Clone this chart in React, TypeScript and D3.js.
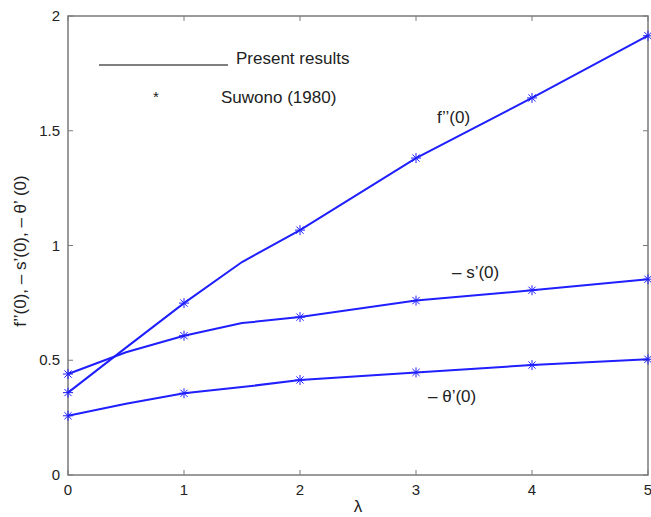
import { useEffect, useRef } from 'react';
import * as d3 from 'd3';

const lambdaLine = [0, 0.5, 1, 1.5, 2, 3, 4, 5];
const fppLine = [0.359, 0.555, 0.749, 0.928, 1.067, 1.381, 1.643, 1.914];
const spLine = [0.44, 0.535, 0.607, 0.662, 0.688, 0.76, 0.805, 0.853];
const thLine = [0.258, 0.31, 0.356, 0.383, 0.414, 0.447, 0.479, 0.504];
const markerLambda = [0, 1, 2, 3, 4, 5];
const xTicks = [0, 1, 2, 3, 4, 5];
const yTicks = [0, 0.5, 1, 1.5, 2];

const BLUE = '#1f1fff';
const FONT = 'Liberation Sans, Arial, sans-serif';

export default function App() {
  const svgRef = useRef<SVGSVGElement>(null);

  useEffect(() => {
    const svg = d3.select(svgRef.current);
    svg.selectAll('*').remove();
    const margin = { top: 16, right: 3, bottom: 42, left: 68 };
    const W = 651, H = 517;
    const width = W - margin.left - margin.right;
    const height = H - margin.top - margin.bottom;
    const g = svg.append('g').attr('transform', `translate(${margin.left},${margin.top})`);

    const x = d3.scaleLinear().domain([0, 5]).range([0, width]);
    const y = d3.scaleLinear().domain([0, 2]).range([height, 0]);

    // box
    g.append('rect').attr('width', width).attr('height', height)
      .attr('fill', 'none').attr('stroke', '#7a7a7a').attr('stroke-width', 1.5);

    const tick = 5;
    xTicks.forEach(t => {
      g.append('line').attr('x1', x(t)).attr('x2', x(t)).attr('y1', height).attr('y2', height - tick).attr('stroke', '#7a7a7a');
      g.append('line').attr('x1', x(t)).attr('x2', x(t)).attr('y1', 0).attr('y2', tick).attr('stroke', '#7a7a7a');
      g.append('text').attr('x', x(t)).attr('y', height + 20).attr('text-anchor', 'middle')
        .attr('font-family', FONT).attr('font-size', 15).attr('fill', '#222').text(String(t));
    });
    yTicks.forEach(t => {
      g.append('line').attr('x1', 0).attr('x2', tick).attr('y1', y(t)).attr('y2', y(t)).attr('stroke', '#7a7a7a');
      g.append('line').attr('x1', width).attr('x2', width - tick).attr('y1', y(t)).attr('y2', y(t)).attr('stroke', '#7a7a7a');
      g.append('text').attr('x', -8).attr('y', y(t) + 5).attr('text-anchor', 'end')
        .attr('font-family', FONT).attr('font-size', 15).attr('fill', '#222').text(String(t));
    });

    const line = d3.line<number>().x((_, i) => x(lambdaLine[i])).y(d => y(d));
    const series = [fppLine, spLine, thLine];
    series.forEach(s => {
      g.append('path').attr('d', line(s)).attr('fill', 'none').attr('stroke', BLUE).attr('stroke-width', 2);
      markerLambda.forEach(l => {
        const v = s[lambdaLine.indexOf(l)];
        const cx = x(l), cy = y(v), r = 5;
        const star = g.append('g').attr('stroke', BLUE).attr('stroke-width', 1);
        star.append('line').attr('x1', cx - r).attr('x2', cx + r).attr('y1', cy).attr('y2', cy);
        star.append('line').attr('x1', cx).attr('x2', cx).attr('y1', cy - r).attr('y2', cy + r);
        const d = r * 0.72;
        star.append('line').attr('x1', cx - d).attr('x2', cx + d).attr('y1', cy - d).attr('y2', cy + d);
        star.append('line').attr('x1', cx - d).attr('x2', cx + d).attr('y1', cy + d).attr('y2', cy - d);
      });
    });

    // annotations
    const txt = (px: number, py: number, s: string, size = 17) =>
      svg.append('text').attr('x', px).attr('y', py).attr('font-family', FONT)
        .attr('font-size', size).attr('fill', '#222').text(s);
    txt(437, 123, 'f\u2019\u2019(0)');
    txt(452, 278, '\u2013 s\u2019(0)');
    txt(428, 402, '\u2013 \u03b8\u2019(0)');

    // legend
    svg.append('line').attr('x1', 99).attr('x2', 228).attr('y1', 65).attr('y2', 65)
      .attr('stroke', '#555').attr('stroke-width', 1.5);
    txt(236, 64, 'Present results');
    txt(153, 102, '*', 15);
    txt(221, 103, 'Suwono (1980)');

    // axis labels
    svg.append('text').attr('x', 358).attr('y', 512).attr('text-anchor', 'middle')
      .attr('font-family', FONT).attr('font-size', 17).attr('fill', '#222').text('\u03bb');
    svg.append('text').attr('transform', 'translate(26,251) rotate(-90)').attr('text-anchor', 'middle')
      .attr('font-family', FONT).attr('font-size', 17).attr('fill', '#222')
      .text('f\u2019\u2019(0), \u2013 s\u2019(0), \u2013 \u03b8\u2019 (0)');
  }, []);

  return (
    <svg ref={svgRef} width={651} height={517}
      style={{ position: 'absolute', left: 0, top: 0, background: '#fff' }} />
  );
}
